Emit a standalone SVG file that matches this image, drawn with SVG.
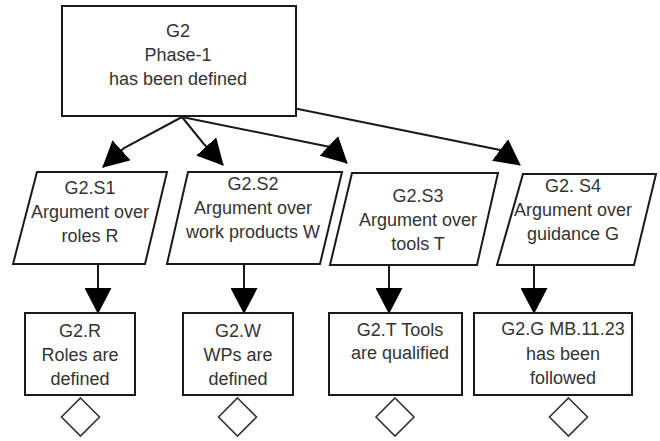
<svg xmlns="http://www.w3.org/2000/svg" width="660" height="441" viewBox="0 0 660 441">
<style>
.box{fill:#fff;stroke:#1a1a1a;stroke-width:2}
.dia{fill:#fff;stroke:#333;stroke-width:1.6}
.con{fill:none;stroke:#1a1a1a;stroke-width:2;marker-end:url(#ah)}
text{font-family:"Liberation Sans",Arial,sans-serif;font-size:18px;fill:#333;text-anchor:middle}
</style>
<defs>
<marker id="ah" markerUnits="userSpaceOnUse" markerWidth="26" markerHeight="27" viewBox="0 0 26 27" refX="25" refY="13.5" orient="auto">
<path d="M0,0 L26,13.5 L0,27 Z" fill="#000"/>
</marker>
</defs>
<rect width="660" height="441" fill="#fff"/>
<g id="connectors">
<path class="con" d="M182,117 L124,148 L103,167"/>
<path class="con" d="M182,117 L203,143 L223,165"/>
<path class="con" d="M182,117 L330,147 L347,163"/>
<path class="con" d="M293,108 L500,150 L520,165"/>
<path class="con" d="M98,264 L98,313"/>
<path class="con" d="M244,264 L244,313"/>
<path class="con" d="M389,265 L389,313"/>
<path class="con" d="M534,265 L534,313"/>
</g>
<g id="G2">
<rect class="box" x="62" y="6" width="234" height="110"/>
<text x="178" y="37">G2</text>
<text x="178" y="61">Phase-1</text>
<text x="178" y="85">has been defined</text>
</g>
<g id="G2.S1">
<polygon class="box" points="37,172 167,172 145,264 13,264"/>
<text x="90" y="194">G2.S1</text>
<text x="90" y="218">Argument over</text>
<text x="90" y="242">roles R</text>
</g>
<g id="G2.S2">
<polygon class="box" points="188,172 342,172 320,264 167,264"/>
<text x="253" y="190">G2.S2</text>
<text x="253" y="214">Argument over</text>
<text x="253" y="238">work products W</text>
</g>
<g id="G2.S3">
<polygon class="box" points="352,173 498,173 477,265 330,265"/>
<text x="418" y="202">G2.S3</text>
<text x="418" y="226">Argument over</text>
<text x="418" y="250">tools T</text>
</g>
<g id="G2.S4">
<polygon class="box" points="523,174 656,174 634,265 497,265"/>
<text x="573" y="192">G2. S4</text>
<text x="573" y="216">Argument over</text>
<text x="573" y="240">guidance G</text>
</g>
<g id="G2.R">
<rect class="box" x="25" y="313" width="110" height="82"/>
<text x="80" y="337">G2.R</text>
<text x="80" y="361">Roles are</text>
<text x="80" y="385">defined</text>
<polygon class="dia" points="80.5,398 99.5,417 80.5,436 61.5,417"/>
</g>
<g id="G2.W">
<rect class="box" x="183" y="313" width="110" height="82"/>
<text x="238" y="337">G2.W</text>
<text x="238" y="361">WPs are</text>
<text x="238" y="385">defined</text>
<polygon class="dia" points="237.5,398 256.5,417 237.5,436 218.5,417"/>
</g>
<g id="G2.T">
<rect class="box" x="329" y="313" width="133" height="82"/>
<text x="400" y="336">G2.T Tools</text>
<text x="400" y="359">are qualified</text>
<polygon class="dia" points="395,398 414,417 395,436 376,417"/>
</g>
<g id="G2.G">
<rect class="box" x="474" y="313" width="158" height="82"/>
<text x="563" y="335">G2.G MB.11.23</text>
<text x="563" y="360">has been</text>
<text x="563" y="384">followed</text>
<polygon class="dia" points="568.5,398 587.5,417 568.5,436 549.5,417"/>
</g>
</svg>
